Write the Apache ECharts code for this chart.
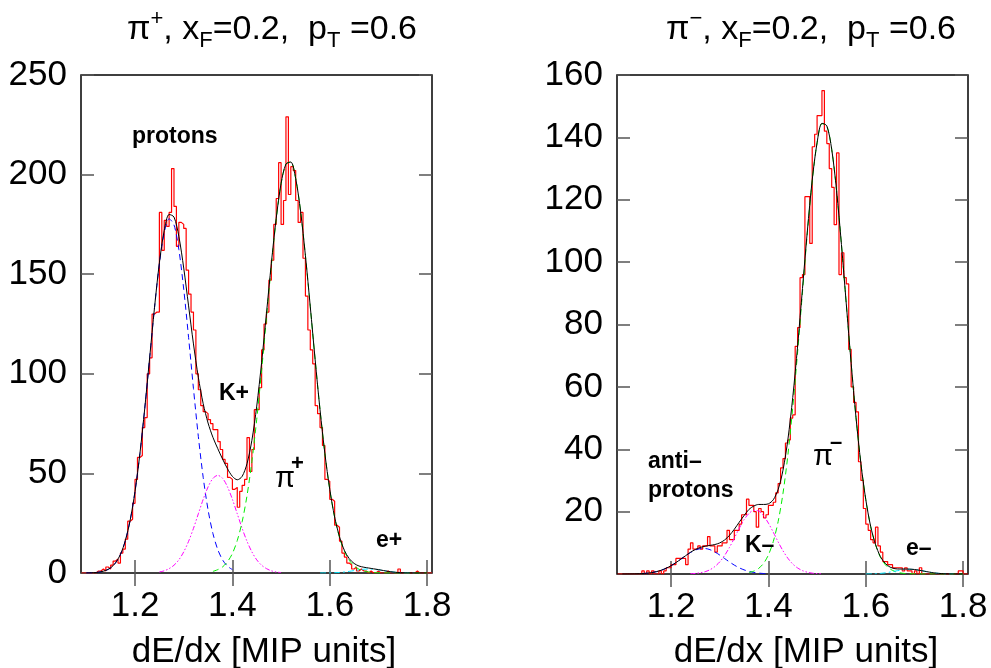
<!DOCTYPE html>
<html><head><meta charset="utf-8">
<script src="https://cdn.jsdelivr.net/npm/echarts@6/dist/echarts.min.js"></script>
<style>html,body{margin:0;padding:0;background:#fff}#c{width:991px;height:668px}</style>
</head><body><div id="c"></div>
<script>
// ---------- data ----------
const binStart = 1.09, binWidth = 0.005;
// pi+ panel histogram (counts per bin, bins of 0.005 starting at 1.090)
const histPlus = [0,0,0,0,0,0,1,1,2,1,3,2,4,6,7,5,10,12,17,26,
  27,35,47,58,59,73,78,100,108,130,131,131,181,162,177,174,181,203,184,164,
  176,175,173,152,140,131,122,100,92,84,81,80,77,75,72,72,66,62,57,55,
  48,47,42,43,33,41,44,47,68,51,62,82,82,93,112,125,131,147,157,175,
  188,206,175,187,229,190,204,202,187,176,181,158,139,122,112,105,84,80,73,64,
  47,46,37,36,24,23,16,10,8,5,4,2,3,1,2,1,1,0,1,0,
  0,1,0,0,0,1,0,0,0,0,2,0,0,0,0,0,0,1,0,0,0,0,0,0];
// pi- panel histogram
const histMinus = [0,0,0,0,0,0,0,0,0,0,1,0,1,0,1,0,0,1,0,1,
  2,2,3,3,5,5,5,5,3,8,10,8,8,9,8,9,9,12,9,9,
  7,9,9,10,10,14,11,11,14,14,16,19,19,24,22,22,20,15,21,20,
  18,19,22,22,23,26,29,34,37,42,43,50,51,73,79,95,96,121,121,106,
  137,141,147,147,155,142,138,130,124,112,135,96,103,95,93,72,60,55,52,36,
  30,21,16,14,11,10,15,9,7,4,4,3,3,2,2,2,2,1,2,1,
  1,0,1,0,2,0,0,0,0,0,0,0,0,0,0,0,0,0,0,0,1,1,0,0];

const curveStep = 0.01;
// pi+ panel fit and components (sampled every 0.01)
const fitPlusStart = 1.10;
const fitPlus = [0.04,0.1,0.25,0.6,1.3,2.6,5.1,9.3,16.2,26.5,41,59.9,82.7,108,133.2,155.7,172,180,178.7,169,
  153.1,134.1,115,98.3,85,75.3,68.1,62.4,57.1,52.3,48.5,46.8,48.5,54.9,66.6,83.8,105.7,130.4,155.5,178.1,
  195.6,205.3,206.3,198,181.7,159.3,133.6,107,81.9,59.9,42,28.1,18.2,11.4,7.2,4.8,3.5,2.9,2.5,2.1,
  1.7,1.25,0.82,0.5,0.27,0.13,0.06,0.02,0,0,0];
const protonPlusStart = 1.10;
const protonPlus = [0.04,0.1,0.25,0.59,1.27,2.6,5.1,9.3,16.2,26.5,41,59.9,82.7,108,133.2,155.2,170.9,177.8,174.8,162.4,
  142.5,118.2,92.6,68.6,48,31.7,19.8,11.7,6.5,3.4,1.7];
const kaonPlusStart = 1.25;
const kaonPlus = [0.5,1.1,2.2,3.9,6.6,10.6,15.9,22.4,29.7,37,43.2,47.5,49,47.5,43.2,37,29.7,22.4,15.9,10.6,6.6,3.9,2.2,1.1,0.5,0.2];
const pionPlusStart = 1.36;
const pionPlus = [0.8,1.7,3.1,5.7,9.8,16.3,25.7,38.8,56,77.2,101.8,128.2,154.4,177.6,195.4,205.3,206.3,198,181.7,159.3,
  133.6,107,81.9,59.9,41.9,28,17.9,10.9,6.4,3.6,1.9,1.0,0.5,0.2,0.1,0.04,0,0,0,0,0,0,0,0,0];
const elecPlusStart = 1.58;
const elecPlus = [0.008,0.022,0.06,0.13,0.27,0.5,0.82,1.21,1.6,1.89,2,1.89,1.6,1.21,0.82,0.5,0.27,0.13,0.06,0.02,0.01];

// pi- panel fit and components
const fitMinusStart = 1.10;
const fitMinus = [0,0.01,0.03,0.07,0.14,0.25,0.45,0.76,1.21,1.85,2.66,3.65,4.75,5.87,6.97,7.86,8.5,8.91,9.17,9.45,
  9.96,10.9,12.38,14.35,16.59,18.73,20.7,21.8,22.3,22.3,22.5,23.8,27.1,33.3,43.1,56.6,73.1,91.5,110,126.3,
  138.3,144.5,143.7,136.2,123,105.7,86.6,67.5,50.1,35.4,23.9,15.3,9.5,5.6,3.4,2.2,1.7,1.6,1.6,1.57,
  1.45,1.2,0.91,0.62,0.37,0.2,0.1,0.04,0,0,0];
const protonMinusStart = 1.14;
const protonMinus = [0.14,0.25,0.45,0.76,1.21,1.85,2.66,3.65,4.75,5.87,6.89,7.68,8.12,8.17,7.8,7.07,6.08,4.97,3.86,2.85,1.99,1.33,0.84,0.5,0.29,0.16,0.08];
const kaonMinusStart = 1.24;
const kaonMinus = [0.08,0.18,0.38,0.74,1.37,2.38,3.88,5.93,8.52,11.5,14.6,17.4,19.4,20.4,20.2,18.7,16.3,13.4,10.3,7.43,5.04,3.21,1.93,1.08,0.57,0.28,0.13,0.06];
const pionMinusStart = 1.36;
const pionMinus = [0.45,0.92,1.8,3.4,6.1,10.4,16.8,25.9,38.1,53.4,71.2,90.4,109.4,126,138.2,144.4,143.7,136.2,123,105.7,
  86.6,67.5,50.1,35.4,23.9,15.3,9.4,5.4,3,1.6,0.8,0.38,0.17,0.07,0.03,0,0,0,0,0,0,0,0,0,0];
const elecMinusStart = 1.60;
const elecMinus = [0.017,0.04,0.1,0.2,0.37,0.62,0.91,1.2,1.42,1.5,1.42,1.2,0.91,0.62,0.37,0.2,0.1,0.04,0.017];

const xTicks = [1.2, 1.4, 1.6, 1.8];
const yTicksPlus = [0, 50, 100, 150, 200, 250];
const yTicksMinus = [20, 40, 60, 80, 100, 120, 140, 160];

// ---------- helpers ----------
function histPoints(vals) {
  const pts = vals.map((v, i) => [+(binStart + i * binWidth).toFixed(4), v]);
  pts.push([+(binStart + vals.length * binWidth).toFixed(4), vals[vals.length - 1]]);
  return pts;
}
function curvePoints(start, vals) {
  return vals.map((v, i) => [+(start + i * curveStep).toFixed(4), v]);
}

const FONT = "'Liberation Sans', Arial, Helvetica, sans-serif";
const XMIN = 1.089, XMAX = 1.81;

function xAx(grid, pos, labels) {
  return {
    type: 'value', gridIndex: grid, position: pos, min: XMIN, max: XMAX,
    axisLine: { show: false },
    splitLine: { show: false },
    axisTick: { show: true, inside: true, length: 13, customValues: xTicks,
      lineStyle: { color: '#555', width: 1.5 } },
    axisLabel: { show: labels, customValues: xTicks, margin: 16, color: '#000',
      fontSize: 35, fontFamily: FONT, formatter: v => v.toFixed(1) }
  };
}
function yAx(grid, pos, max, ticks, labels) {
  return {
    type: 'value', gridIndex: grid, position: pos, min: 0, max: max,
    axisLine: { show: false },
    splitLine: { show: false },
    axisTick: { show: true, inside: true, length: 13, customValues: ticks,
      lineStyle: { color: '#555', width: 1.5 } },
    axisLabel: { show: labels, customValues: ticks, margin: 14, color: '#000',
      fontSize: 35, fontFamily: FONT }
  };
}
function line(xi, yi, data, color, type, width, z, step) {
  const s = {
    type: 'line', xAxisIndex: xi, yAxisIndex: yi, data: data,
    showSymbol: false, symbol: 'none', z: z, silent: true,
    lineStyle: { color: color, width: width, type: type }
  };
  if (step) s.step = 'end'; else s.smooth = 0.3;
  return s;
}

const magDash = [5, 2, 1.5, 2, 1.5, 2];
const cyanDash = [6, 3, 2, 3];

const series = [
  line(0, 0, histPoints(histPlus), '#ff0000', 'solid', 1.2, 2, true),
  line(0, 0, curvePoints(protonPlusStart, protonPlus), '#0000ff', [6, 4], 1, 3),
  line(0, 0, curvePoints(kaonPlusStart, kaonPlus), '#ff00ff', magDash, 1, 3),
  line(0, 0, curvePoints(pionPlusStart, pionPlus), '#00ee00', [6, 4], 1, 3),
  line(0, 0, curvePoints(elecPlusStart, elecPlus), '#00e5ff', cyanDash, 1, 3),
  line(0, 0, curvePoints(fitPlusStart, fitPlus), '#000000', 'solid', 1, 4),
  line(2, 2, histPoints(histMinus), '#ff0000', 'solid', 1.2, 2, true),
  line(2, 2, curvePoints(protonMinusStart, protonMinus), '#0000ff', [6, 4], 1, 3),
  line(2, 2, curvePoints(kaonMinusStart, kaonMinus), '#ff00ff', magDash, 1, 3),
  line(2, 2, curvePoints(pionMinusStart, pionMinus), '#00ee00', [6, 4], 1, 3),
  line(2, 2, curvePoints(elecMinusStart, elecMinus), '#00e5ff', cyanDash, 1, 3),
  line(2, 2, curvePoints(fitMinusStart, fitMinus), '#000000', 'solid', 1, 4)
];

function txt(x, y, text, size, bold, align) {
  return { type: 'text', x: x, y: y, z: 50, silent: true,
    style: { text: text, fill: '#000', fontSize: size, fontWeight: bold ? 'bold' : 'normal',
      fontFamily: FONT, align: align || 'left', verticalAlign: 'middle' } };
}
function title(cx, sign) {
  return { type: 'text', x: cx, y: 30, z: 50, silent: true,
    style: {
      text: '{a|π}{s|' + sign + '}{a|, x}{b|F}{a|=0.2,  p}{b|T}{a| =0.6}',
      align: 'center', verticalAlign: 'middle', fill: '#000',
      rich: {
        a: { fontSize: 34, fontFamily: FONT, lineHeight: 44, verticalAlign: 'middle', fill: '#000' },
        s: { fontSize: 22, fontFamily: FONT, lineHeight: 22, verticalAlign: 'top', fill: '#000' },
        b: { fontSize: 22, fontFamily: FONT, lineHeight: 22, verticalAlign: 'bottom', fill: '#000' }
      }
    } };
}

const graphic = [
  title(272, '+'), title(811, '−'),
  txt(264, 652, 'dE/dx [MIP units]', 35, false, 'center'),
  txt(806, 652, 'dE/dx [MIP units]', 35, false, 'center'),
  txt(132, 137, 'protons', 23, true),
  txt(219, 394, 'K+', 23, true),
  txt(275, 479, 'π', 29, false),
  txt(291, 464, '+', 22, true),
  txt(376, 541, 'e+', 23, true),
  txt(648, 462, 'anti–', 23, true),
  txt(648, 491, 'protons', 23, true),
  txt(745, 546, 'K–', 23, true),
  txt(813, 457, 'π', 29, false),
  txt(830, 443, '–', 22, true),
  txt(906, 549, 'e–', 23, true)
];

const option = {
  animation: false,
  backgroundColor: '#fff',
  grid: [
    { left: 81, top: 75, width: 351, height: 498, show: true, borderColor: '#000', borderWidth: 1.5, backgroundColor: 'transparent' },
    { left: 617, top: 75, width: 351, height: 499, show: true, borderColor: '#000', borderWidth: 1.5, backgroundColor: 'transparent' }
  ],
  xAxis: [ xAx(0, 'bottom', true), xAx(0, 'top', false), xAx(1, 'bottom', true), xAx(1, 'top', false) ],
  yAxis: [ yAx(0, 'left', 250, yTicksPlus, true), yAx(0, 'right', 250, yTicksPlus, false),
           yAx(1, 'left', 160, yTicksMinus, true), yAx(1, 'right', 160, yTicksMinus, false) ],
  series: series,
  graphic: graphic
};

const chart = echarts.init(document.getElementById('c'), null, { renderer: 'canvas' });
chart.setOption(option);
</script>
</body></html>
